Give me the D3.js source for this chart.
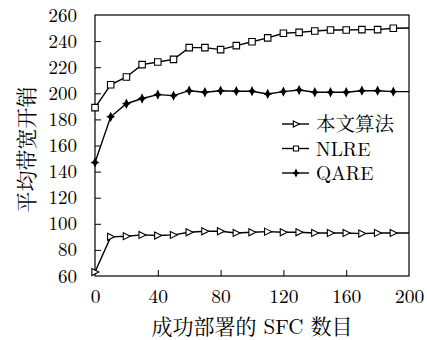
<!DOCTYPE html>
<html>
<head>
<meta charset="utf-8">
<script src="https://cdn.jsdelivr.net/npm/d3@7"></script>
<style>
  body { margin: 0; background: #fff; }
  text { fill: #000; }
</style>
</head>
<body>
<div id="chart"></div>
<script>
// data
const sfcCounts = [0, 10, 20, 30, 40, 50, 60, 70, 80, 90, 100, 110, 120, 130, 140, 150, 160, 170, 180, 190, 200];
const oursValues = [63, 90, 90.5, 91.5, 91, 91.5, 93.5, 94.3, 94.3, 93, 93.5, 94, 93.5, 93.5, 93, 93, 93, 92.5, 93, 93, 93];
const nlreValues = [189, 206.5, 212.5, 222, 224, 226, 235, 235, 233.5, 236.5, 239.5, 242.5, 246, 246.7, 247.7, 248.5, 248.5, 248.8, 248.8, 249.8, 250];
const qareValues = [147, 182, 192, 196, 199, 198.2, 202, 200.8, 202, 201.6, 201.6, 199.5, 201.3, 202.5, 200.8, 200.8, 200.8, 202, 202, 201.3, 201.3];
const seriesNames = ["本文算法", "NLRE", "QARE"];
const xTicks = [0, 40, 80, 120, 160, 200];
const yTicks = [60, 80, 100, 120, 140, 160, 180, 200, 220, 240, 260];
const xTitle = "成功部署的 SFC 数目";
const yTitle = "平均带宽开销";

const width = 427,
  height = 340,
  margin = { top: 15, right: 18, bottom: 64, left: 95 };

// LaTeX-ish look: Latin Modern for latin, Song-style CJK
const fontStack = "'Latin Modern Roman', 'Noto Serif CJK SC', 'Times New Roman', serif";

const svg = d3
  .select("#chart")
  .append("svg")
  .attr("width", width)
  .attr("height", height);

const x = d3.scaleLinear().domain([0, 200]).range([margin.left, width - margin.right]);
const y = d3.scaleLinear().domain([60, 260]).range([height - margin.bottom, margin.top]);

// axes: ticks point inward
svg
  .append("g")
  .attr("transform", `translate(0,${height - margin.bottom})`)
  .call(d3.axisBottom(x).tickValues(xTicks).tickSize(-6).tickPadding(13).tickFormat(d3.format("d")))
  .call((g) => g.select(".domain").remove())
  .call((g) => g.selectAll("line").filter((d) => d === 0 || d === 200).remove())
  .call((g) => g.selectAll("text").style("font-family", fontStack).style("font-size", "19.5px"));

svg
  .append("g")
  .attr("transform", `translate(${margin.left},0)`)
  .call(d3.axisLeft(y).tickValues(yTicks).tickSize(-6).tickPadding(18).tickFormat(d3.format("d")))
  .call((g) => g.select(".domain").remove())
  .call((g) => g.selectAll("line").filter((d) => d === 60 || d === 260).remove())
  .call((g) => g.selectAll("text").style("font-family", fontStack).style("font-size", "19px"));

svg.selectAll(".tick line").attr("stroke", "#000").attr("stroke-width", 1);

// frame
svg
  .append("rect")
  .attr("x", x(0))
  .attr("y", y(260))
  .attr("width", x(200) - x(0))
  .attr("height", y(60) - y(260))
  .attr("fill", "none")
  .attr("stroke", "#000")
  .attr("stroke-width", 1.2);

// axis titles
svg
  .append("text")
  .attr("x", (x(0) + x(200)) / 2)
  .attr("y", 334)
  .attr("text-anchor", "middle")
  .style("font-family", fontStack)
  .style("font-size", "21px")
  .text(xTitle);

svg
  .append("text")
  .attr("transform", `translate(34,${(y(60) + y(260)) / 2 + 4}) rotate(-90)`)
  .attr("text-anchor", "middle")
  .style("font-family", fontStack)
  .style("font-size", "21px")
  .text(yTitle);

// marker shapes
const triangle = (s) => `M${-s * 0.45},${-s * 0.5}L${s * 0.55},0L${-s * 0.45},${s * 0.5}Z`;
const square = (s) => `M${-s / 2},${-s / 2}H${s / 2}V${s / 2}H${-s / 2}Z`;
const star = (s) => `M0,${-s * 0.6}L${s * 0.22},${-s * 0.15}L${s * 0.5},0L${s * 0.22},${s * 0.15}L0,${s * 0.6}L${-s * 0.22},${s * 0.15}L${-s * 0.5},0L${-s * 0.22},${-s * 0.15}Z`;

const series = [
  { name: seriesNames[0], values: oursValues, shape: triangle, size: 7, legendSize: 6, fill: "#fff" },
  { name: seriesNames[1], values: nlreValues, shape: square, size: 6.5, legendSize: 5, fill: "#fff" },
  { name: seriesNames[2], values: qareValues, shape: star, size: 6.5, legendSize: 5.5, fill: "#000" }
];

const line = d3
  .line()
  .x((d) => x(d.x))
  .y((d) => y(d.v));

series.forEach((s) => {
  const pts = sfcCounts.map((c, i) => ({ x: c, v: s.values[i] }));
  svg
    .append("path")
    .datum(pts)
    .attr("d", line)
    .attr("fill", "none")
    .attr("stroke", "#000")
    .attr("stroke-width", 1.4);

  svg
    .selectAll(null)
    .data(pts.filter((d) => d.x < 200))
    .join("path")
    .attr("transform", (d) => `translate(${x(d.x)},${y(d.v)})`)
    .attr("d", s.shape(s.size))
    .attr("fill", s.fill)
    .attr("stroke", "#000")
    .attr("stroke-width", 1.1);
});

// legend
const legend = svg.append("g").attr("transform", "translate(282,124)");
series.forEach((s, i) => {
  const row = legend.append("g").attr("transform", `translate(0,${i * 24.5})`);
  row.append("line").attr("x1", 0).attr("x2", 27).attr("stroke", "#000").attr("stroke-width", 1.4);
  row
    .append("path")
    .attr("transform", "translate(14,0)")
    .attr("d", s.shape(s.legendSize))
    .attr("fill", s.fill)
    .attr("stroke", "#000")
    .attr("stroke-width", 1.1);
  row
    .append("text")
    .attr("x", 34)
    .attr("y", 7)
    .style("font-family", fontStack)
    .style("font-size", "19.5px")
    .text(s.name);
});
</script>
</body>
</html>
